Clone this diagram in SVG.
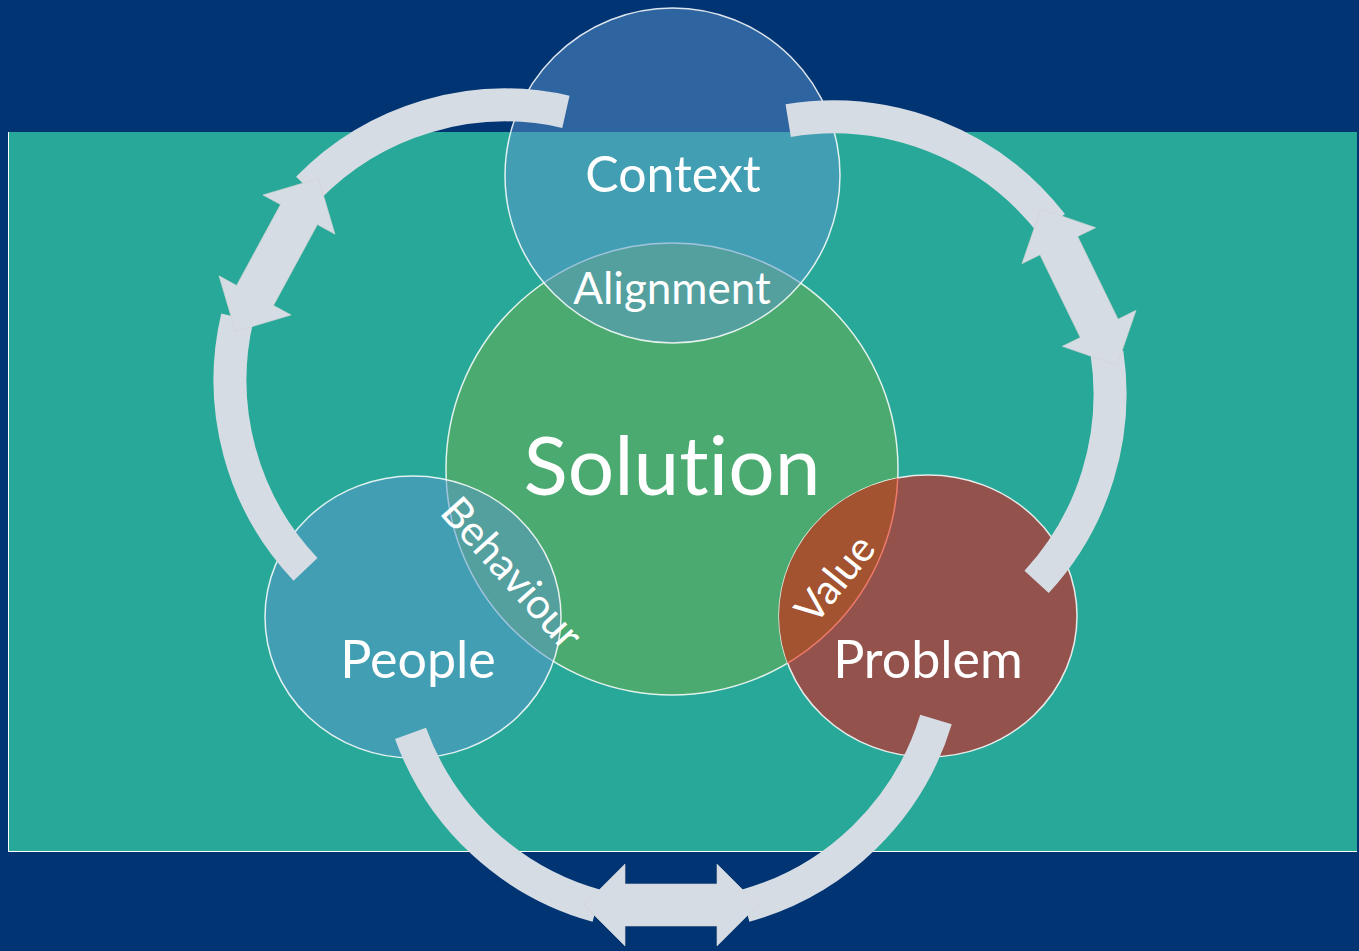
<svg xmlns="http://www.w3.org/2000/svg" xmlns:xlink="http://www.w3.org/1999/xlink" width="1359" height="951" viewBox="0 0 1359 951">
<defs>
<style>
.label{font-family:Lato,"Open Sans","Liberation Sans",sans-serif;fill:#ffffff;text-anchor:middle;font-variant-ligatures:none;font-feature-settings:"liga" 0,"clig" 0}
.band{fill:none;stroke:#D6DCE4;stroke-width:33;stroke-linecap:butt}
.dbl{fill:#D6DCE4;stroke:#D2D2D2;stroke-width:0.6}
.ring{stroke:#ffffff;stroke-opacity:0.85;stroke-width:1.5}
.blue{fill:#5C96CD;fill-opacity:0.5}
</style>
<clipPath id="clipSol"><circle cx="672" cy="469" r="226"/></clipPath>
<clipPath id="clipProb"><ellipse cx="928" cy="616" rx="149" ry="141"/></clipPath>
<polygon id="dblArrow" points="-87,0 -46,-41 -46,-21 46,-21 46,-41 87,0 46,41 46,21 -46,21 -46,41"/>
</defs>
<rect x="0" y="0" width="1359" height="951" fill="#003473"/>
<rect x="8" y="132" width="1349" height="719" fill="#28A898"/>
<line x1="8.5" y1="132" x2="8.5" y2="851" stroke="#ffffff" stroke-width="1"/>
<line x1="8" y1="851.5" x2="1357" y2="851.5" stroke="#ffffff" stroke-width="1"/>

<g id="solution">
<circle class="ring" cx="672" cy="469" r="226" fill="#4BAA70"/>
<text class="label" x="672" y="495" font-size="82">Solution</text>
</g>
<g id="context">
<circle class="ring blue" cx="672.5" cy="175.5" r="167.5"/>
<text class="label" x="673" y="192" font-size="50">Context</text>
</g>
<g id="people">
<ellipse class="ring blue" cx="413" cy="617" rx="148" ry="141"/>
<text class="label" x="418" y="678" font-size="52">People</text>
</g>
<g id="problem">
<ellipse class="ring" cx="928" cy="616" rx="149" ry="141" fill="#93524C"/>
<ellipse cx="928" cy="616" rx="149" ry="141" fill="#A3532F" clip-path="url(#clipSol)"/>
<circle cx="672" cy="469" r="226" fill="none" stroke="#EE7A6C" stroke-width="1.5" clip-path="url(#clipProb)"/>
<text class="label" x="928" y="678" font-size="52">Problem</text>
</g>
<g id="alignment">
<text class="label" x="672" y="304" font-size="44">Alignment</text>
</g>
<g id="behaviour">
<text class="label" x="0" y="0" font-size="42" dominant-baseline="central" transform="translate(513,572) rotate(48)">Behaviour</text>
</g>
<g id="value">
<text class="label" x="0" y="0" font-size="41" dominant-baseline="central" transform="translate(834,578) rotate(-51)">Value</text>
</g>

<g id="connectors">
<path class="band" d="M565.9,111.8 A275,275 0 0 0 307.9,188.3"/>
<path class="band" d="M237.3,317.2 A275,275 0 0 0 305.5,569.3"/>
<use class="dbl" xlink:href="#dblArrow" href="#dblArrow" transform="translate(277,255) rotate(-61.5)"/>
<path class="band" d="M788.2,120.6 A277,277 0 0 1 1051.9,224.2"/>
<path class="band" d="M1107,353.1 A277,277 0 0 1 1036.6,581.9"/>
<use class="dbl" xlink:href="#dblArrow" href="#dblArrow" transform="translate(1079,287) rotate(64)"/>
<path class="band" d="M410.5,733.3 A277,277 0 0 0 597.0,905.9"/>
<path class="band" d="M745.0,905.9 A277,277 0 0 0 936.0,719.5"/>
<use class="dbl" xlink:href="#dblArrow" href="#dblArrow" transform="translate(671,905)"/>
</g>
</svg>
